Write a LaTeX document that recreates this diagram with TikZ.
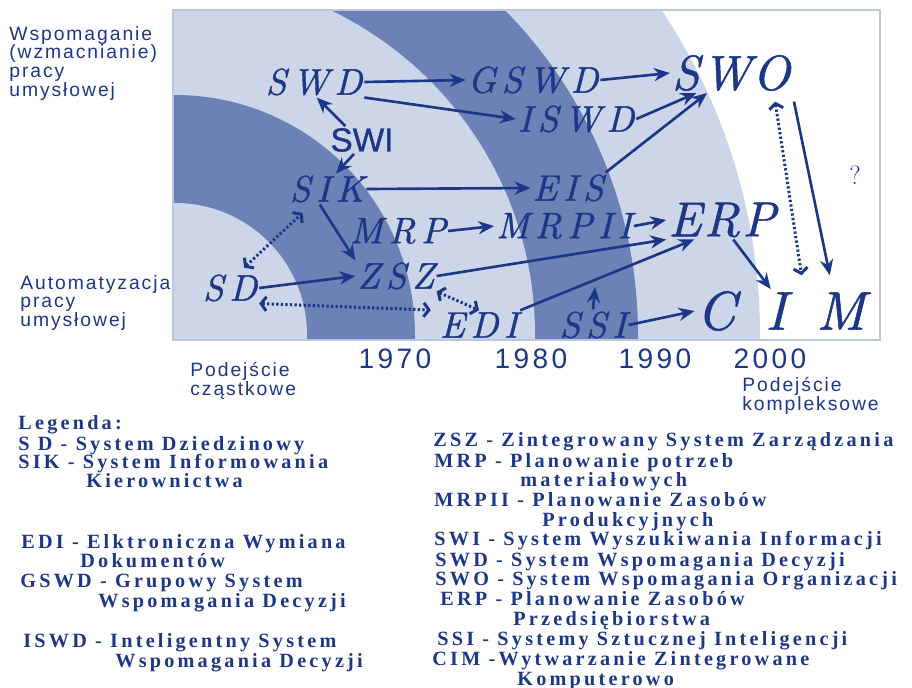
\documentclass[tikz,border=0pt]{standalone}
\usepackage{fontspec}
\usetikzlibrary{arrows.meta}
\newfontfamily\legfont{Liberation Serif}[LetterSpace=16]
\newfontfamily\sidefont{Liberation Sans}[LetterSpace=10]
\newfontfamily\yearfont{Liberation Sans}[LetterSpace=12]
\newfontfamily\swifont{Liberation Sans}[FakeBold=1]
\newfontfamily\acrfont{lmroman10-italic}[Extension=.otf, LetterSpace=15, FakeBold=1]
\newfontfamily\bigacrfont{lmroman10-italic}[Extension=.otf, LetterSpace=5, FakeBold=1]
\newfontfamily\cimfont{lmroman10-italic}[Extension=.otf, LetterSpace=55, FakeBold=1]
\definecolor{ink}{RGB}{28,55,135}
\definecolor{bandlight}{RGB}{205,213,233}
\definecolor{banddark}{RGB}{108,129,182}
\definecolor{framec}{RGB}{190,198,220}

\begin{document}
\begin{tikzpicture}[x=0.02cm, y=-0.02cm,
        acr/.style={text=ink, inner sep=1pt, font=\acrfont\fontsize{21}{21}\selectfont},
        bigacr/.style={text=ink, inner sep=1pt, font=\bigacrfont\fontsize{28}{28}\selectfont},
        arr/.style={-{Stealth[length=9pt,width=7.5pt]}, line width=1.5pt, draw=ink},
        dotarr/.style={{Straight Barb[length=3pt,width=8pt]}-{Straight Barb[length=3pt,width=8pt]}, line width=1.7pt, dash pattern=on 1.3pt off 1.3pt, draw=ink},
        side/.style={text=ink, align=left, anchor=north west, inner sep=0pt, font=\sidefont\fontsize{11}{10.6}\selectfont},
        year/.style={text=ink, inner sep=0pt, font=\yearfont\fontsize{16}{16}\selectfont},
        leg/.style={text=ink, anchor=base west, inner sep=0pt, font=\legfont\bfseries\fontsize{11.5}{11.5}\selectfont}
    ]
    \useasboundingbox (0,0) rectangle (912,687);

    % rings of the time chart
    \begin{scope}
        \clip (173,10) rectangle (880,340);
        \fill[white] (173,10) rectangle (880,340);
        \fill[bandlight] (175,335) circle [radius=585];
        \fill[banddark] (175,335) circle [radius=463];
        \fill[bandlight] (175,335) circle [radius=360];
        \fill[banddark] (175,335) circle [radius=240];
        \fill[bandlight] (175,335) circle [radius=132];
    \end{scope}
    \draw[framec, line width=0.8pt] (173,10) rectangle (880,340);

    % systems
    \node[acr]    (SWD)   at (314,82)  {SWD};
    \node[acr]    (GSWD)  at (533,80)  {GSWD};
    \node[bigacr] (SWO)   at (731,73)  {SWO};
    \node[acr]    (ISWD)  at (576,119) {ISWD};
    \node[text=ink, inner sep=1pt, font=\swifont\fontsize{19}{19}\selectfont] (SWI) at (362,140) {SWI};
    \node[acr]    (SIK)   at (327,189) {SIK};
    \node[acr]    (EIS)   at (568,188) {EIS};
    \node[acr]    (MRP)   at (398,231) {MRP};
    \node[acr]    (MRPII) at (564,226) {MRPII};
    \node[bigacr] (ERP)   at (722,220) {ERP};
    \node[acr]    (SD)    at (230,288) {SD};
    \node[acr]    (ZSZ)   at (396,276) {ZSZ};
    \node[acr]    (EDI)   at (479,325) {EDI};
    \node[acr]    (SSI)   at (593,325) {SSI};
    \node[text=ink, inner sep=1pt, font=\cimfont\fontsize{31}{31}\selectfont] (CIM) at (781,311) {CIM};
    \node[text=ink, font=\fontsize{15}{15}\selectfont] (qm) at (855,175) {?};
    \coordinate (ssitop) at (595,287);

    % links
    \draw[arr] (SWD.east) -- (GSWD.west);
    \draw[arr] (SWD.south east) -- (ISWD.west);
    \draw[arr] (GSWD.east) -- (SWO.west);
    \draw[arr] (ISWD.east) -- (SWO.-150);
    \draw[arr] (EIS.north east) -- (SWO.-140);
    \draw[arr] (SWI.140) -- (SWD.-80);
    \draw[arr] (SWI.-120) -- (SIK.60);
    \draw[arr] (SIK.east) -- (EIS.west);
    \draw[arr] (SIK.-115) -- (ZSZ.north west);
    \draw[arr] (MRP.east) -- (MRPII.west);
    \draw[arr] (MRPII.east) -- (ERP.west);
    \draw[arr] (SD.east) -- (ZSZ.west);
    \draw[arr] (ZSZ.east) -- (ERP.south west);
    \draw[arr] (EDI.north east) -- (ERP.-145);
    \draw[arr] (SSI.north) -- (ssitop);
    \draw[arr] (SSI.east) -- (CIM.west);
    \draw[arr] (ERP.-60) -- (CIM.115);
    \draw[arr, shorten <=5pt, shorten >=8pt] (SWO.south east) -- (CIM.23);
    \draw[dotarr, shorten <=5pt, shorten >=8pt] (SWO.-25) -- (CIM.44);
    \draw[dotarr, shorten <=4pt, shorten >=7pt] (SD.60) -- (SIK.-135);
    \draw[dotarr, shorten >=4pt] (SD.south east) -- (EDI.north west);
    \draw[dotarr] (ZSZ.south east) -- (EDI.north);

    % axis texts
    \node[side] (upper) at (9,26) {Wspomaganie\\(wzmacnianie)\\pracy\\umysłowej};
    \node[side] (lower) at (20,275) {Automatyzacja\\pracy\\umysłowej};
    \node[side] (partial) at (190,362) {Podejście\\cząstkowe};
    \node[side] (complex) at (742,377) {Podejście\\kompleksowe};
    \node[year] (y1970) at (395,359) {1970};
    \node[year] (y1980) at (531,359) {1980};
    \node[year] (y1990) at (655,359) {1990};
    \node[year] (y2000) at (770,359) {2000};

    % legend
    \node[leg] (lgTitle)  at (18,429)  {Legenda:};
    \node[leg] (lgSD)     at (18,450)  {S D - System Dziedzinowy};
    \node[leg] (lgSIK)    at (18,468)  {SIK - System Informowania};
    \node[leg] (lgSIKb)   at (86,487)  {Kierownictwa};
    \node[leg] (lgEDI)    at (21,548)  {EDI - Elktroniczna Wymiana};
    \node[leg] (lgEDIb)   at (80,567)  {Dokumentów};
    \node[leg] (lgGSWD)   at (20,587)  {GSWD - Grupowy System};
    \node[leg] (lgGSWDb)  at (98,607)  {Wspomagania Decyzji};
    \node[leg] (lgISWD)   at (23,647)  {ISWD - Inteligentny System};
    \node[leg] (lgISWDb)  at (115,667) {Wspomagania Decyzji};
    \node[leg] (lgZSZ)    at (433,446) {ZSZ - Zintegrowany System Zarządzania};
    \node[leg] (lgMRP)    at (434,467) {MRP - Planowanie potrzeb};
    \node[leg] (lgMRPb)   at (520,486) {materiałowych};
    \node[leg] (lgMRPII)  at (434,506) {MRPII - Planowanie Zasobów};
    \node[leg] (lgMRPIIb) at (542,526) {Produkcyjnych};
    \node[leg] (lgSWI)    at (434,545) {SWI - System Wyszukiwania Informacji};
    \node[leg] (lgSWD)    at (435,566) {SWD - System Wspomagania Decyzji};
    \node[leg] (lgSWO)    at (435,585) {SWO - System Wspomagania Organizacji};
    \node[leg] (lgERP)    at (440,605) {ERP - Planowanie Zasobów};
    \node[leg] (lgERPb)   at (513,625) {Przedsiębiorstwa};
    \node[leg] (lgSSI)    at (437,645) {SSI - Systemy Sztucznej Inteligencji};
    \node[leg] (lgCIM)    at (432,665) {CIM -Wytwarzanie Zintegrowane};
    \node[leg] (lgCIMb)   at (517,685) {Komputerowo};
\end{tikzpicture}
\end{document}
